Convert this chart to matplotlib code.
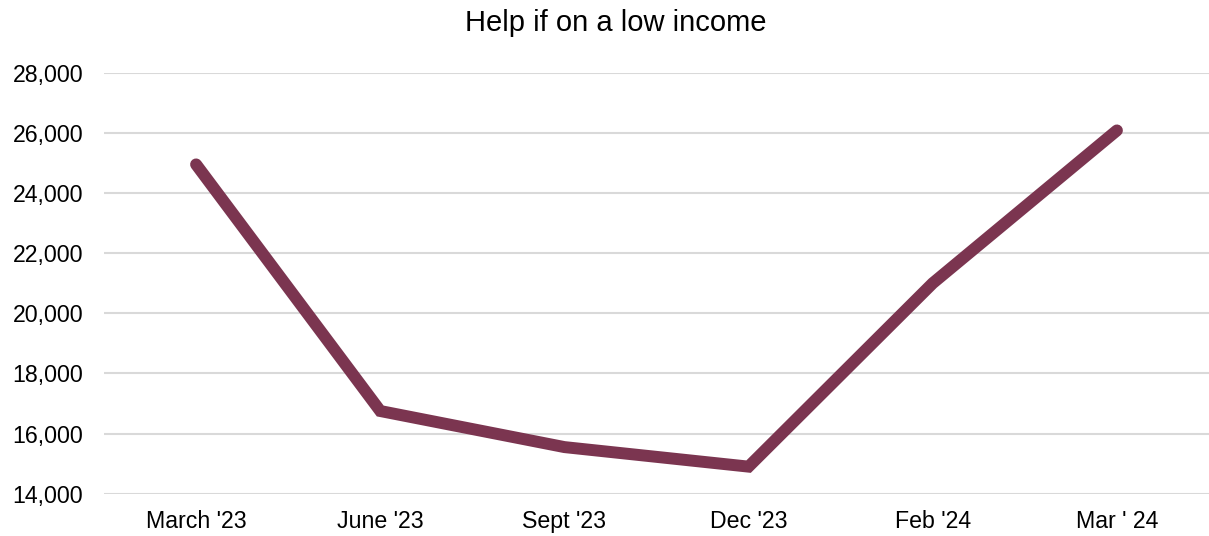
import matplotlib
matplotlib.use("Agg")
import matplotlib.pyplot as plt
from matplotlib.ticker import FuncFormatter

categories = ["March '23", "June '23", "Sept '23", "Dec '23", "Feb '24", "Mar ' 24"]
values = [24950, 16750, 15550, 14900, 21000, 26080]
title = "Help if on a low income"

plt.rcParams['font.family'] = ['Liberation Sans', 'DejaVu Sans']

fig = plt.figure(figsize=(12.09, 5.36), dpi=100)
ax = fig.add_axes([104/1209, 1 - 493.7/536, 1 - 104/1209, (493.7 - 72.7)/536])

x = list(range(len(categories)))
ax.plot(x, values, color='#7B3550', linewidth=8.6, solid_capstyle='round', solid_joinstyle='miter', zorder=3)

ax.set_xlim(-0.5, len(categories) - 0.5)
ax.set_ylim(14000, 28000)
ax.set_yticks(range(14000, 28001, 2000))
ax.yaxis.set_major_formatter(FuncFormatter(lambda v, p: f"{int(v):,}"))
ax.set_xticks(x)
ax.set_xticklabels(categories)

ax.grid(axis='y', color='#D9D9D9', linewidth=1.5, zorder=0)
ax.set_axisbelow(True)
for s in ax.spines.values():
    s.set_visible(False)
ax.tick_params(axis='both', length=0, labelsize=16.7, colors='black')
ax.tick_params(axis='y', pad=15)
ax.tick_params(axis='x', pad=12)

fig.text(616/1209, 1 - 23/536, title, ha='center', va='center', fontsize=21)

fig.savefig("out.png", dpi=100)
